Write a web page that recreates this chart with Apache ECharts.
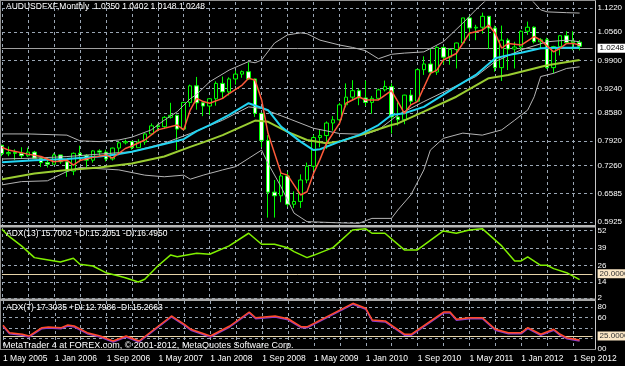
<!DOCTYPE html>
<html>
<head>
<meta charset="utf-8">
<style>
html, body { margin: 0; padding: 0; background: #000; }
#chart { width: 625px; height: 366px; }
</style>
<script src="https://cdn.jsdelivr.net/npm/echarts@6/dist/echarts.min.js"></script>
</head>
<body>
<div id="chart"></div>
<script>
// monthly bars, 1 May 2005 .. 1 Oct 2012
var monthNames = ['Jan','Feb','Mar','Apr','May','Jun','Jul','Aug','Sep','Oct','Nov','Dec'];
var dates = [];
for (var i = 0; i < 92; i++) {
    dates.push('1 ' + monthNames[(4 + i) % 12] + ' ' + (2005 + Math.floor((4 + i) / 12)));
}

var opens = [
    0.7800,0.7590,0.7620,0.7600,0.7540,0.7630,0.7480,0.7370,0.7330,0.7560,0.7390,0.7160,
    0.7600,0.7550,0.7430,0.7660,0.7630,0.7460,0.7730,0.7860,0.7890,0.7740,0.7880,0.8080,
    0.8280,0.8260,0.8490,0.8540,0.8200,0.8860,0.9270,0.8850,0.8770,0.8950,0.9330,0.9120,
    0.9440,0.9560,0.9620,0.9440,0.8590,0.7920,0.6640,0.6550,0.7040,0.6340,0.6410,0.6940,
    0.7280,0.7990,0.8040,0.8350,0.8430,0.8800,0.8990,0.9150,0.8970,0.8860,0.8960,0.9170,
    0.9250,0.8500,0.8430,0.9040,0.8890,0.9670,0.9810,0.9610,1.0220,0.9980,1.0170,1.0330,
    1.0950,1.0700,1.0720,1.0990,1.0700,0.9720,1.0400,1.0180,1.0230,1.0620,1.0720,1.0360,
    1.0410,0.9720,1.0240,1.0510,1.0340,1.0350
];
var highs = [
    0.7810,0.7770,0.7700,0.7750,0.7740,0.7660,0.7500,0.7500,0.7600,0.7560,0.7460,0.7620,
    0.7790,0.7580,0.7680,0.7700,0.7690,0.7740,0.7890,0.7940,0.7900,0.7950,0.8100,0.8340,
    0.8330,0.8520,0.8850,0.8560,0.8870,0.9300,0.9490,0.8890,0.8960,0.9380,0.9500,0.9480,
    0.9650,0.9650,0.9850,0.9450,0.8600,0.8050,0.6940,0.7150,0.7140,0.6660,0.7080,0.7370,
    0.8050,0.8190,0.8390,0.8520,0.8850,0.9330,0.9410,0.9200,0.9400,0.9020,0.9200,0.9400,
    0.9330,0.8860,0.9050,0.9170,0.9700,1.0000,1.0190,1.0250,1.0250,1.0200,1.0340,1.0950,
    1.1010,1.0780,1.1080,1.1000,1.0760,1.0760,1.0450,1.0360,1.0640,1.0860,1.0740,1.0450,
    1.0460,1.0260,1.0520,1.0620,1.0620,1.0402
];
var lows = [
    0.7530,0.7530,0.7430,0.7480,0.7510,0.7460,0.7260,0.7250,0.7320,0.7340,0.7020,0.7060,
    0.7380,0.7250,0.7370,0.7540,0.7400,0.7420,0.7580,0.7820,0.7690,0.7740,0.7810,0.8070,
    0.8140,0.8200,0.8460,0.7680,0.8170,0.8750,0.8680,0.8520,0.8550,0.8780,0.8950,0.9030,
    0.9300,0.9470,0.9420,0.8500,0.7750,0.6010,0.6010,0.6390,0.6280,0.6250,0.6250,0.6860,
    0.7170,0.7750,0.7710,0.8160,0.8390,0.8740,0.8910,0.8790,0.8770,0.8580,0.8960,0.9130,
    0.8090,0.8290,0.8320,0.8770,0.8880,0.9540,0.9530,0.9540,0.9800,0.9790,0.9700,1.0320,
    1.0420,1.0400,1.0560,1.0180,0.9620,0.9390,0.9660,0.9700,1.0140,1.0530,1.0320,1.0200,
    0.9690,0.9580,1.0020,1.0330,1.0150,1.0148
];
var closes = [
    0.7590,0.7620,0.7600,0.7540,0.7630,0.7480,0.7370,0.7330,0.7560,0.7390,0.7160,0.7600,
    0.7550,0.7430,0.7660,0.7630,0.7460,0.7730,0.7860,0.7890,0.7740,0.7880,0.8080,0.8280,
    0.8260,0.8490,0.8540,0.8200,0.8860,0.9270,0.8850,0.8770,0.8950,0.9330,0.9120,0.9440,
    0.9560,0.9620,0.9440,0.8590,0.7920,0.6640,0.6550,0.7040,0.6340,0.6410,0.6940,0.7280,
    0.7990,0.8040,0.8350,0.8430,0.8800,0.8990,0.9150,0.8970,0.8860,0.8960,0.9170,0.9250,
    0.8500,0.8430,0.9040,0.8890,0.9670,0.9810,0.9610,1.0220,0.9980,1.0170,1.0330,1.0950,
    1.0700,1.0720,1.0990,1.0700,0.9720,1.0400,1.0180,1.0230,1.0620,1.0720,1.0360,1.0410,
    0.9720,1.0240,1.0510,1.0340,1.0380,1.0248
];

// indicator lines, [bar, value]
var maRed = [[0,0.775],[1,0.768],[4,0.758],[6,0.752],[8,0.739],[10,0.743],[11,0.731],[12,0.742],[14,0.750],
    [16,0.756],[17,0.748],[19,0.772],[20,0.778],[22,0.793],[24,0.818],[27,0.830],[28,0.818],[29,0.867],
    [30,0.896],[31,0.888],[32,0.884],[34,0.896],[35,0.908],[37,0.929],[38,0.946],[39,0.941],[40,0.892],
    [41,0.809],[43,0.711],[44,0.706],[46,0.657],[47,0.665],[48,0.710],[49,0.745],[50,0.785],[52,0.834],
    [53,0.884],[55,0.900],[56,0.892],[58,0.892],[60,0.915],[61,0.888],[62,0.859],[63,0.880],[64,0.888],
    [66,0.958],[67,0.966],[68,0.991],[70,1.007],[72,1.057],[73,1.061],[74,1.065],[75,1.077],[76,1.057],
    [77,1.020],[78,1.032],[80,1.028],[82,1.049],[83,1.040],[85,1.011],[86,1.020],[87,1.032],[88,1.032],[89,1.028]];
var maCyan = [[0,0.738],[5,0.743],[10,0.746],[15,0.752],[18,0.758],[20,0.764],[23,0.775],[25,0.783],[28,0.795],
    [29,0.805],[30,0.815],[32,0.830],[35,0.855],[38,0.884],[41,0.867],[43,0.826],[46,0.789],[48,0.768],
    [49,0.770],[52,0.789],[55,0.805],[58,0.830],[60,0.855],[62,0.859],[65,0.875],[70,0.925],[73,0.954],
    [76,0.995],[78,1.003],[80,1.009],[83,1.020],[86,1.021],[89,1.021]];
var maGreen = [[0,0.696],[5,0.710],[10,0.719],[15,0.725],[20,0.735],[25,0.752],[29,0.776],[31,0.787],[34,0.805],
    [39,0.841],[41,0.838],[44,0.813],[47,0.793],[50,0.785],[52,0.789],[56,0.809],[60,0.830],[61,0.834],
    [65,0.863],[70,0.900],[75,0.946],[78,0.954],[82,0.970],[84,0.978],[89,0.991]];
var bandUpper = [[0,0.808],[4,0.808],[10,0.805],[12,0.791],[15,0.789],[18,0.793],[20,0.800],[23,0.818],[25,0.842],
    [27,0.863],[29,0.895],[30,0.906],[32,0.937],[35,0.966],[38,0.987],[39,0.984],[40,0.991],[42,1.033],
    [44,1.053],[46,1.058],[47,1.056],[49,1.040],[52,1.028],[54,1.022],[56,1.014],[58,0.994],[60,1.005],
    [62,1.008],[65,1.011],[68,1.036],[71,1.082],[73,1.115],[75,1.145],[78,1.160],[81,1.150],[83,1.115],
    [84,1.110],[87,1.108],[89,1.107]];
var bandMid = [[0,0.746],[5,0.748],[10,0.752],[15,0.758],[20,0.764],[25,0.785],[29,0.809],[34,0.842],[38,0.875],
    [40,0.871],[44,0.847],[48,0.822],[52,0.809],[56,0.807],[58,0.818],[61,0.855],[65,0.888],[73,0.950],
    [76,0.987],[80,1.016],[84,1.036],[87,1.040],[89,1.036]];
var bandLower = [[0,0.682],[3,0.690],[7,0.692],[10,0.715],[12,0.725],[18,0.719],[22,0.706],[25,0.702],[28,0.706],
    [29,0.696],[31,0.706],[34,0.719],[36,0.727],[40,0.768],[41,0.735],[43,0.677],[45,0.612],[47,0.591],
    [52,0.588],[55,0.587],[57,0.599],[60,0.599],[61,0.620],[63,0.657],[65,0.719],[66,0.768],[68,0.797],
    [71,0.810],[74,0.805],[77,0.818],[79,0.842],[81,0.867],[82,0.900],[83,0.950],[85,0.958],[87,0.970],[89,0.974]];

var adx13 = [[0,53.0],[1,48.1],[3,40.7],[5,32.0],[6,31.2],[9,28.8],[11,31.5],[12,27.1],[14,25.8],[16,20.8],
    [18,18.4],[19,17.1],[21,13.9],[22,15.9],[24,25.8],[26,34.0],[27,32.7],[30,35.2],[32,34.5],[35,40.7],
    [38,50.1],[40,41.9],[42,41.9],[44,39.4],[45,36.5],[47,32.0],[48,33.7],[51,39.4],[54,52.5],[56,53.5],
    [57,50.1],[59,50.1],[62,37.7],[64,37.7],[68,51.8],[70,50.1],[72,52.5],[74,53.5],[77,40.7],[79,29.5],
    [80,29.5],[81,32.5],[83,26.3],[84,26.3],[85,23.8],[87,20.8],[89,15.7]];
var adx7 = [[0,45.4],[1,31.3],[3,28.2],[4,24.9],[6,40.9],[7,42.2],[9,40.9],[10,46.0],[11,44.1],[13,31.3],
    [15,24.9],[17,15.3],[19,24.9],[21,15.3],[22,24.9],[24,44.1],[26,63.3],[28,47.3],[29,37.8],[32,24.9],
    [35,44.1],[38,70.9],[39,60.0],[42,63.3],[44,58.0],[46,42.8],[47,42.8],[54,87.6],[56,78.0],[57,55.6],
    [59,53.7],[62,28.2],[63,28.2],[68,70.9],[69,70.9],[70,56.9],[72,60.0],[74,60.0],[76,37.8],[78,31.3],
    [80,31.3],[81,40.9],[83,28.2],[85,37.8],[86,28.2],[87,21.7],[89,17.3]];

var priceTicks = [1.1220, 1.0560, 0.9900, 0.9240, 0.8580, 0.7920, 0.7260, 0.6585, 0.5925];
var adx13Ticks = [52, 39, 26, 14, 2];
var adx7Ticks = [80, 60, 40, 20, 0];
var adx7TickText = ['80', '60', '', '', '00'];
var adx13Level = 20;
var adx7Level = 25;

var font = 'Liberation Sans';
var gridColor = '#9aa6b4';
var last = closes.length - 1;

var candles = [];
for (var k = 0; k < closes.length; k++) {
    candles.push([opens[k], closes[k], lows[k], highs[k]]);
}

function gridMark(v, text) {
    return {
        yAxis: v,
        lineStyle: { type: [3, 3], color: gridColor, width: 1 },
        label: { formatter: text }
    };
}
function levelMark(v) {
    return {
        yAxis: v,
        lineStyle: { type: 'solid', color: '#e6d3a8', width: 1 },
        label: { formatter: v.toFixed(4), backgroundColor: '#fbe7c6', color: '#333', padding: [1, 2, 0, 2] }
    };
}
var markBase = {
    silent: true,
    z: 1,
    symbol: ['none', 'none'],
    animation: false,
    label: { position: 'end', distance: 5, color: '#fff', fontSize: 8, fontFamily: font }
};

var priceMarks = priceTicks.map(function (v) { return gridMark(v, v.toFixed(4)); });
priceMarks.push({
    yAxis: closes[last],
    lineStyle: { type: 'solid', color: '#a0a0a0', width: 1 },
    label: { formatter: closes[last].toFixed(4), backgroundColor: '#fff', color: '#000', padding: [1, 2, 0, 2] }
});
var adx13Marks = adx13Ticks.map(function (v) { return gridMark(v, String(v)); });
adx13Marks.push(levelMark(adx13Level));
var adx7Marks = adx7Ticks.map(function (v, i) { return gridMark(v, adx7TickText[i]); });
adx7Marks.push(levelMark(adx7Level));

function lineSeries(data, color, width, extra) {
    var s = {
        type: 'line',
        data: data,
        symbol: 'none',
        z: 3,
        lineStyle: { color: color, width: width },
        silent: true
    };
    for (var key in extra) s[key] = extra[key];
    return s;
}

var gridLeft = 2, barStep = 6.49, nCat = dates.length;
var gridWidth = barStep * (nCat - 1);

function xAxisFor(idx, showLabels) {
    return {
        type: 'category',
        gridIndex: idx,
        data: dates,
        boundaryGap: false,
        axisLine: { show: false },
        axisTick: { show: false },
        axisLabel: showLabels ? {
            show: true, interval: 7, align: 'left', margin: 5,
            color: '#fff', fontSize: 8.5, fontFamily: font
        } : { show: false },
        splitLine: { show: true, interval: 3, lineStyle: { type: [3, 3], color: gridColor, width: 1 } }
    };
}
function yAxisFor(idx, min, max) {
    return {
        type: 'value', gridIndex: idx, min: min, max: max, position: 'right',
        axisLine: { show: false }, axisTick: { show: false },
        axisLabel: { show: false }, splitLine: { show: false }
    };
}

var titleStyle = { color: '#fff', fontSize: 8.5, fontWeight: 'normal', fontFamily: font };
var ohlcText = [opens[last], highs[last], lows[last], closes[last]].map(function (v) { return v.toFixed(4); }).join(' ');

var option = {
    backgroundColor: '#000',
    animation: false,
    title: [
        { text: 'AUDUSDFXF,Monthly  ' + ohlcText, left: 6, top: 2, padding: 0, textStyle: titleStyle },
        { text: 'ADX(13) 15.7002 +DI:15.2051 -DI:16.4950', left: 6, top: 229, padding: 0, textStyle: titleStyle },
        { text: 'ADX(7) 17.3035 +DI:12.7986 -DI:15.2663', left: 6, top: 303, padding: 0, textStyle: titleStyle },
        { text: 'MetaTrader 4 at FOREX.com, \u00a9 2001-2012, MetaQuotes Software Corp.', left: 3, top: 341, padding: 0,
          textStyle: { color: '#fff', fontSize: 9, fontWeight: 'normal', fontFamily: font } }
    ],
    grid: [
        { left: gridLeft, top: 2, width: gridWidth, height: 224 },
        { left: gridLeft, top: 228, width: gridWidth, height: 70 },
        { left: gridLeft, top: 301, width: gridWidth, height: 48 }
    ],
    xAxis: [xAxisFor(0, false), xAxisFor(1, false), xAxisFor(2, true)],
    yAxis: [yAxisFor(0, 0.5802, 1.1344), yAxisFor(1, 2, 54), yAxisFor(2, 0, 92)],
    series: [
        {
            type: 'candlestick',
            xAxisIndex: 0, yAxisIndex: 0,
            data: candles,
            barWidth: 4,
            z: 2,
            silent: true,
            itemStyle: {
                color: '#000', color0: '#fff',
                borderColor: '#00ff00', borderColor0: '#00ff00', borderWidth: 1
            },
            markLine: Object.assign({}, markBase, { data: priceMarks })
        },
        lineSeries(bandUpper, '#b4b4b4', 1, { xAxisIndex: 0, yAxisIndex: 0 }),
        lineSeries(bandMid, '#b4b4b4', 1, { xAxisIndex: 0, yAxisIndex: 0 }),
        lineSeries(bandLower, '#b4b4b4', 1, { xAxisIndex: 0, yAxisIndex: 0 }),
        lineSeries(maGreen, '#9acd32', 2, { xAxisIndex: 0, yAxisIndex: 0 }),
        lineSeries(maCyan, '#22d4f2', 2, { xAxisIndex: 0, yAxisIndex: 0 }),
        lineSeries(maRed, '#ff5a3a', 1.5, { xAxisIndex: 0, yAxisIndex: 0 }),
        lineSeries(adx13, '#80f000', 1.5, {
            xAxisIndex: 1, yAxisIndex: 1,
            markLine: Object.assign({}, markBase, { data: adx13Marks })
        }),
        lineSeries(adx7, '#ff4a2a', 1.5, {
            xAxisIndex: 2, yAxisIndex: 2,
            lineStyle: { color: '#ff4a2a', width: 1.5, shadowColor: '#8a3cc8', shadowBlur: 0, shadowOffsetY: 1 },
            markLine: Object.assign({}, markBase, { data: adx7Marks })
        })
    ],
    graphic: [
        { type: 'line', silent: true, z: 10, shape: { x1: 595.5, y1: 0, x2: 595.5, y2: 349.5 }, style: { stroke: '#c8c8c8', lineWidth: 1 } },
        { type: 'line', silent: true, z: 10, shape: { x1: 0.5, y1: 0, x2: 0.5, y2: 349.5 }, style: { stroke: '#909090', lineWidth: 1 } },
        { type: 'line', silent: true, z: 10, shape: { x1: 0, y1: 0.5, x2: 596, y2: 0.5 }, style: { stroke: '#909090', lineWidth: 1 } },
        { type: 'rect', silent: true, z: 10, shape: { x: 0, y: 225, width: 596, height: 2.5 }, style: { fill: '#b8b8b8' } },
        { type: 'rect', silent: true, z: 10, shape: { x: 0, y: 298.5, width: 596, height: 2.5 }, style: { fill: '#a8a8a8' } },
        { type: 'line', silent: true, z: 10, shape: { x1: 0, y1: 349.5, x2: 596, y2: 349.5 }, style: { stroke: '#909090', lineWidth: 1 } }
    ]
};

var chart = echarts.init(document.getElementById('chart'), null, { renderer: 'canvas' });
chart.setOption(option);
</script>
</body>
</html>
